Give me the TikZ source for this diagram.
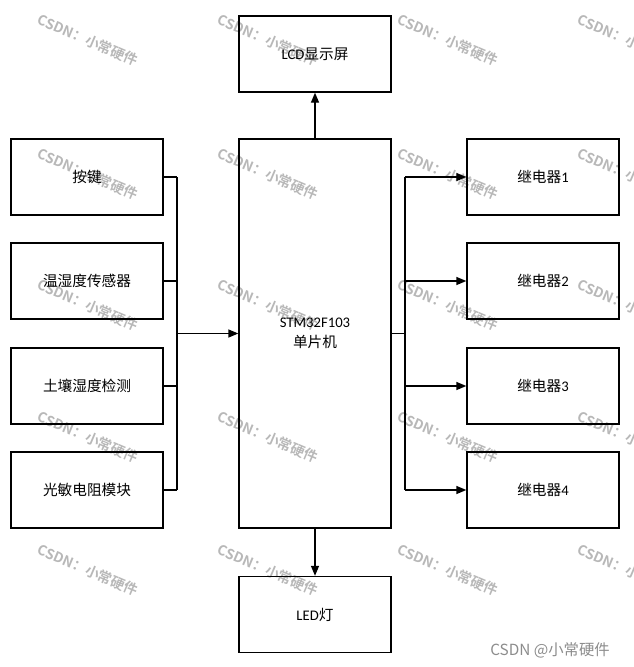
\documentclass[tikz,border=0pt]{standalone}
\usepackage{fontspec}
\setmainfont{Carlito}
\newfontfamily\cjk{Noto Sans CJK SC}
\newfontfamily\wmfont{Noto Sans CJK SC Bold}
\usetikzlibrary{arrows.meta}
\definecolor{wmgray}{HTML}{B8B8B8}
\definecolor{sig}{HTML}{8C8C8C}
\begin{document}
\begin{tikzpicture}[x=0.75pt,y=-0.75pt,
  blk/.style={draw=black,line width=1pt,minimum width=114pt,minimum height=57pt,inner sep=0pt,font=\fontsize{11}{13.5}\selectfont,align=center},
  wire/.style={draw=black,line width=1pt},
  arr/.style={wire,-{Triangle[length=7.5pt,width=6pt]}},
  wm/.style={text=wmgray,rotate=-23,font=\wmfont\fontsize{10.5}{12}\selectfont,inner sep=0pt}]
\useasboundingbox (0,0) rectangle (633,667);
% watermarks (behind the drawing)
\foreach \cx in {88,268,448,628}{
  \foreach \cy in {40,174,305,437,570}{
    \node[wm] (w-\cx-\cy) at (\cx,\cy) {CSDN：小常硬件};
  }
}
% left inputs
\node[blk] (k1) at (87,177) {{\cjk 按键}};
\node[blk] (k2) at (87,281) {{\cjk 温湿度传感器}};
\node[blk] (k3) at (87,386) {{\cjk 土壤湿度检测}};
\node[blk] (k4) at (87,490) {{\cjk 光敏电阻模块}};
% center
\node[blk,minimum height=291.75pt] (mcu) at (315,333.5) {STM32F103\\[1pt]{\cjk 单片机}};
\node[blk] (lcd) at (315,54) {LCD{\cjk 显示屏}};
\node[blk] (led) at (315,614.5) {LED{\cjk 灯}};
% right outputs
\node[blk] (r1) at (543,177) {{\cjk 继电器}1};
\node[blk] (r2) at (543,281) {{\cjk 继电器}2};
\node[blk] (r3) at (543,386) {{\cjk 继电器}3};
\node[blk] (r4) at (543,490) {{\cjk 继电器}4};
% bus coordinates
\coordinate (lbus) at (177,333.5);
\coordinate (rbus) at (405,333.5);
% left bus
\draw[wire] (k1.east) -- (k1.east -| lbus);
\draw[wire] (k2.east) -- (k2.east -| lbus);
\draw[wire] (k3.east) -- (k3.east -| lbus);
\draw[wire] (k4.east) -- (k4.east -| lbus);
\draw[wire] (k1.east -| lbus) -- (k4.east -| lbus);
\draw[arr] (lbus) -- (mcu.west);
% right bus
\draw[wire] (mcu.east) -- (rbus);
\draw[wire] (r1.west -| rbus) -- (r4.west -| rbus);
\draw[arr] (r1.west -| rbus) -- (r1.west);
\draw[arr] (r2.west -| rbus) -- (r2.west);
\draw[arr] (r3.west -| rbus) -- (r3.west);
\draw[arr] (r4.west -| rbus) -- (r4.west);
% top / bottom
\draw[arr] (mcu.north) -- (lcd.south);
\draw[arr] (mcu.south) -- (led.north);
\node[text=sig,font=\cjk\fontsize{11.5}{13}\selectfont,inner sep=0pt] (sign) at (550,650) {CSDN @小常硬件};
\end{tikzpicture}
\end{document}
